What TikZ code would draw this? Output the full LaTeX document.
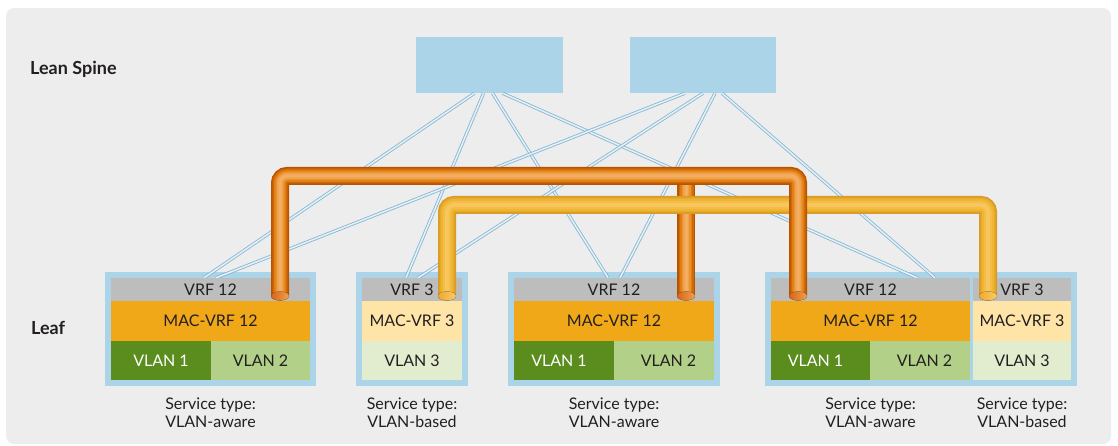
\documentclass[tikz,border=0pt]{standalone}
\usepackage{fontspec}
\setmainfont{Lato}
\definecolor{bg}{HTML}{EDEDED}
\definecolor{spine}{HTML}{ABD4E8}
\definecolor{linkc}{HTML}{78B8DC}
\definecolor{vrf}{HTML}{BDBDBD}
\definecolor{mac}{HTML}{F0A819}
\definecolor{macpale}{HTML}{FFE4A8}
\definecolor{vdark}{HTML}{5A8C1E}
\definecolor{vlight}{HTML}{B3D088}
\definecolor{vpale}{HTML}{E2EDCF}
\definecolor{ink}{HTML}{231F20}
\definecolor{o1}{HTML}{B85400}
\definecolor{o2}{HTML}{D06A06}
\definecolor{o3}{HTML}{E07E16}
\definecolor{o4}{HTML}{EA922E}
\definecolor{o5}{HTML}{F0A24C}
\definecolor{o6}{HTML}{F3AE64}
\definecolor{y1}{HTML}{D89A28}
\definecolor{y2}{HTML}{E5A92C}
\definecolor{y3}{HTML}{EEB530}
\definecolor{y4}{HTML}{F3BD46}
\definecolor{y5}{HTML}{F8C55E}
\definecolor{capOa}{HTML}{D8641A}
\definecolor{capOb}{HTML}{EFA050}
\definecolor{capYa}{HTML}{EFA830}
\definecolor{capYb}{HTML}{F9CA6A}
\newcommand\mkcell[7]{\node[cellbox,#6,minimum width={#4-#2},minimum height={#5-#3}] (#1) at ({(#2+#4)/2},{(#3+#5)/2}) {#7};}
\newcommand\orangetube[1]{\foreach \w/\c in {18/o1,15/o2,12/o3,9/o4,6/o5,3/o6}{\draw[line width=\w, draw=\c, rounded corners=7pt] #1;}}
\newcommand\yellowtube[1]{\foreach \w/\c in {18/y1,15/y2,12/y3,8/y4,4/y5}{\draw[line width=\w, draw=\c, rounded corners=7pt] #1;}}
\begin{document}
\begin{tikzpicture}[x=1pt,y=-1pt,
  txt/.style={font=\fontsize{16}{18.4}\selectfont, text=ink},
  cellbox/.style={rectangle, inner sep=0pt, outer sep=0pt, txt},
  spinebox/.style={rectangle, fill=spine, inner sep=0pt, minimum height=56pt},
  leafbox/.style={rectangle, fill=spine, inner sep=0pt, minimum height=114pt},
  link/.style={draw=linkc, line width=0.8pt, double=bg, double distance=1.6pt},
  caption/.style={txt, align=center, inner sep=0pt},
  tier/.style={font=\fontsize{18}{21}\selectfont\bfseries, text=ink, anchor=base west, inner sep=0pt},
  vl/.style={text depth=0pt, text height=11.5pt}
]
\useasboundingbox (0,0) rectangle (1118,446);
\fill[bg, rounded corners=8pt] (6,8) rectangle (1111,444);

% tier labels
\node[tier] (lspine) at (30,75) {Lean Spine};
\node[tier] (lleaf) at (31,334) {Leaf};

% spine switches
\node[spinebox, minimum width=147pt] (s1) at (489.5,65) {};
\node[spinebox, minimum width=146pt] (s2) at (703,65) {};

% leaf switches (outer frames)
\node[leafbox, minimum width=211pt] (L1) at (210.5,329) {};
\node[leafbox, minimum width=112pt] (L2) at (412,329) {};
\node[leafbox, minimum width=212pt] (L3) at (614,329) {};
\node[leafbox, minimum width=312pt] (L4) at (921,329) {};

% spine-leaf links
\draw[link] ([xshift=-15pt]s1.south) -- ([xshift=-6.5pt,yshift=-6pt]L1.north);
\draw[link] ([xshift=-6pt]s1.south) -- ([xshift=-6pt,yshift=-6pt]L2.north);
\draw[link] ([xshift=3pt]s1.south) -- ([xshift=-6pt,yshift=-6pt]L3.north);
\draw[link] ([xshift=13pt]s1.south) -- ([xshift=-4pt,yshift=-6pt]L4.north);
\draw[link] ([xshift=-18pt]s2.south) -- ([xshift=5.5pt,yshift=-6pt]L1.north);
\draw[link] ([xshift=0pt]s2.south) -- ([xshift=6pt,yshift=-6pt]L2.north);
\draw[link] ([xshift=12pt]s2.south) -- ([xshift=6pt,yshift=-6pt]L3.north);
\draw[link] ([xshift=19pt]s2.south) -- ([xshift=14pt,yshift=-6pt]L4.north);

% leaf 1
\mkcell{v1}{111}{278}{310}{301}{fill=vrf}{VRF 12}
\mkcell{m1}{111}{301}{310}{341}{fill=mac}{MAC-VRF 12}
\mkcell{a1}{111}{341}{211}{380}{fill=vdark,text=white}{VLAN 1}
\mkcell{b1}{211}{341}{310}{380}{fill=vlight}{VLAN 2}
% leaf 2
\mkcell{v2}{362}{278}{462}{301}{fill=vrf}{VRF 3}
\mkcell{m2}{362}{301}{462}{341}{fill=macpale}{MAC-VRF 3}
\mkcell{c2}{362}{341}{462}{380}{fill=vpale}{VLAN 3}
% leaf 3
\mkcell{v3}{514}{278}{714}{301}{fill=vrf}{VRF 12}
\mkcell{m3}{514}{301}{714}{341}{fill=mac}{MAC-VRF 12}
\mkcell{a3}{514}{341}{614}{380}{fill=vdark,text=white}{\hspace*{-10pt}VLAN 1}
\mkcell{b3}{614}{341}{714}{380}{fill=vlight}{\hspace*{9pt}VLAN 2}
% leaf 4
\mkcell{v4}{771}{278}{970}{301}{fill=vrf}{VRF 12}
\mkcell{m4}{771}{301}{970}{341}{fill=mac}{MAC-VRF 12}
\mkcell{a4}{771}{341}{870}{380}{fill=vdark,text=white}{\hspace*{-10pt}VLAN 1}
\mkcell{b4}{870}{341}{970}{380}{fill=vlight}{\hspace*{9pt}VLAN 2}
\mkcell{v5}{973}{278}{1071}{301}{fill=vrf}{VRF 3}
\mkcell{m5}{973}{301}{1071}{341}{fill=macpale}{MAC-VRF 3}
\mkcell{c5}{973}{341}{1071}{380}{fill=vpale}{VLAN 3}

% captions
\node[caption] (cap1) at (210.5,413) {Service type:\\VLAN-aware};
\node[caption] (cap2) at (412,413) {Service type:\\VLAN-based};
\node[caption] (cap3) at (614,413) {Service type:\\VLAN-aware};
\node[caption] (cap4) at (870.5,413) {Service type:\\VLAN-aware};
\node[caption] (cap5) at (1022,413) {Service type:\\VLAN-based};

% tunnel end points
\coordinate (o1) at (280,296);
\coordinate (o3) at (686,296);
\coordinate (o4) at (798,296);
\coordinate (oh) at (798,176);
\coordinate (om) at (686,180);
\coordinate (y2) at (447,296);
\coordinate (y4) at (988,296);
\coordinate (yh) at (988,205);

% tunnels
\orangetube{(om) -- (o3)}
\yellowtube{(y2) |- (yh) -- (y4)}
\orangetube{(o1) |- (oh) -- (o4)}

% tunnel caps
\fill[left color=capOa, right color=capOb] (o1) ellipse [x radius=9, y radius=4.5];
\fill[left color=capOa, right color=capOb] (o3) ellipse [x radius=9, y radius=4.5];
\fill[left color=capOa, right color=capOb] (o4) ellipse [x radius=9, y radius=4.5];
\fill[left color=capYa, right color=capYb] (y2) ellipse [x radius=9, y radius=4.5];
\fill[left color=capYa, right color=capYb] (y4) ellipse [x radius=9, y radius=4.5];
\end{tikzpicture}
\end{document}
